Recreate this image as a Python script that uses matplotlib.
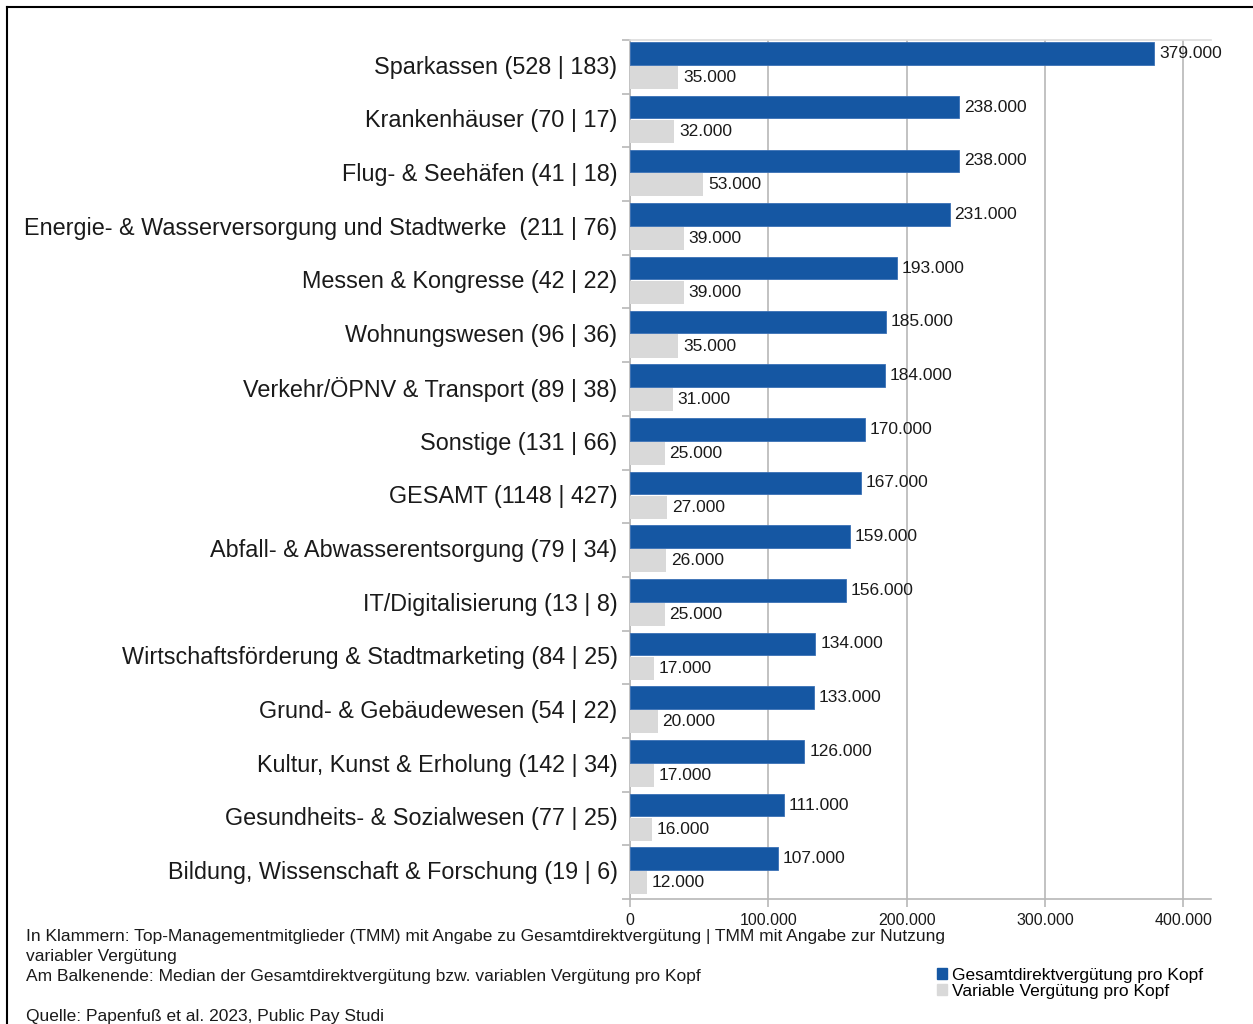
import numpy as np
import matplotlib.pyplot as plt
from matplotlib.patches import Patch
from matplotlib.lines import Line2D

plt.rcParams['font.family'] = ['Liberation Sans', 'DejaVu Sans']

# Bereiche mit Anzahl TMM (Gesamtdirektvergütung | variable Vergütung)
categories = [
    "Sparkassen (528 | 183)",
    "Krankenhäuser (70 | 17)",
    "Flug- & Seehäfen (41 | 18)",
    "Energie- & Wasserversorgung und Stadtwerke  (211 | 76)",
    "Messen & Kongresse (42 | 22)",
    "Wohnungswesen (96 | 36)",
    "Verkehr/ÖPNV & Transport (89 | 38)",
    "Sonstige (131 | 66)",
    "GESAMT (1148 | 427)",
    "Abfall- & Abwasserentsorgung (79 | 34)",
    "IT/Digitalisierung (13 | 8)",
    "Wirtschaftsförderung & Stadtmarketing (84 | 25)",
    "Grund- & Gebäudewesen (54 | 22)",
    "Kultur, Kunst & Erholung (142 | 34)",
    "Gesundheits- & Sozialwesen (77 | 25)",
    "Bildung, Wissenschaft & Forschung (19 | 6)",
]
gesamt = [379000, 238000, 238000, 231000, 193000, 185000, 184000, 170000,
          167000, 159000, 156000, 134000, 133000, 126000, 111000, 107000]
variabel = [35000, 32000, 53000, 39000, 39000, 35000, 31000, 25000,
            27000, 26000, 25000, 17000, 20000, 17000, 16000, 12000]
xticks = [0, 100000, 200000, 300000, 400000]

notes = [
    "In Klammern: Top-Managementmitglieder (TMM) mit Angabe zu Gesamtdirektvergütung | TMM mit Angabe zur Nutzung",
    "variabler Vergütung",
    "Am Balkenende: Median der Gesamtdirektvergütung bzw. variablen Vergütung pro Kopf",
    "",
    "Quelle: Papenfuß et al. 2023, Public Pay Studi",
]

blue = '#1557a3'
grey = '#d9d9d9'
txt = '#1a1a1a'

def fmt(v):
    return f"{v:,}".replace(",", ".")

fig = plt.figure(figsize=(12.53, 10.24), dpi=100)
ax = fig.add_axes([630 / 1253, 1 - 899 / 1024, 581 / 1253, 859 / 1024])

y = np.arange(len(categories))
ax.barh(y - 0.25, gesamt, height=0.42, color=blue, edgecolor='#3a70b5', linewidth=0.6, zorder=3)
ax.barh(y + 0.2, variabel, height=0.43, color=grey, zorder=3)

for yi, g, v in zip(y, gesamt, variabel):
    ax.annotate(fmt(g), (g, yi - 0.25), xytext=(3.5, 0), textcoords='offset points',
                va='center', ha='left', fontsize=12.5, color=txt, zorder=4)
    ax.annotate(fmt(v), (v, yi + 0.2), xytext=(3.5, 0), textcoords='offset points',
                va='center', ha='left', fontsize=12.5, color=txt, zorder=4)

ax.set_xlim(0, 420000)
ax.set_ylim(len(categories) - 0.5, -0.5)
ax.set_xticks(xticks)
ax.set_xticklabels([fmt(t) for t in xticks], fontsize=11.5, color=txt)
ax.xaxis.grid(True, color='#b8b8b8', linewidth=1.2, zorder=0)

# Kategorienamen mittig, Teilstriche an den Bereichsgrenzen
ax.set_yticks(y - 0.04)
ax.set_yticklabels(categories, fontsize=16.8, color=txt)
ax.tick_params(axis='y', length=0, pad=9)
ax.set_yticks(np.arange(len(categories) + 1) - 0.5, minor=True)
ax.tick_params(axis='y', which='minor', length=6, color='#b8b8b8', width=1.2)
ax.tick_params(axis='x', length=6, color='#b8b8b8', width=1.2, pad=4)

for s in ['left', 'bottom', 'top']:
    ax.spines[s].set_color('#b8b8b8')
    ax.spines[s].set_linewidth(1.2)
ax.spines['top'].set_color('#dcdcdc')
ax.spines['right'].set_visible(False)

# Fußnoten, Zeilenabstand 20 px
for i, line in enumerate(notes):
    fig.text(26 / 1253, 1 - (936 + 20 * i) / 1024, line,
             fontsize=12.5, color=txt, va='center', ha='left')

handles = [Patch(color=blue, label='Gesamtdirektvergütung pro Kopf'),
           Patch(color=grey, label='Variable Vergütung pro Kopf')]
fig.legend(handles=handles, loc='upper left', bbox_to_anchor=(928 / 1253, 1 - 959 / 1024),
           frameon=False, fontsize=12.5, handlelength=0.6, handleheight=0.6,
           handletextpad=0.3, labelspacing=0.05, borderpad=0)

# Rahmen oben und links
fig.add_artist(Line2D([7 / 1253, 1], [1 - 7 / 1024, 1 - 7 / 1024], color='black', linewidth=1.5))
fig.add_artist(Line2D([7 / 1253, 7 / 1253], [0, 1 - 7 / 1024], color='black', linewidth=1.5))

fig.savefig('out.png', dpi=100, facecolor='white')
